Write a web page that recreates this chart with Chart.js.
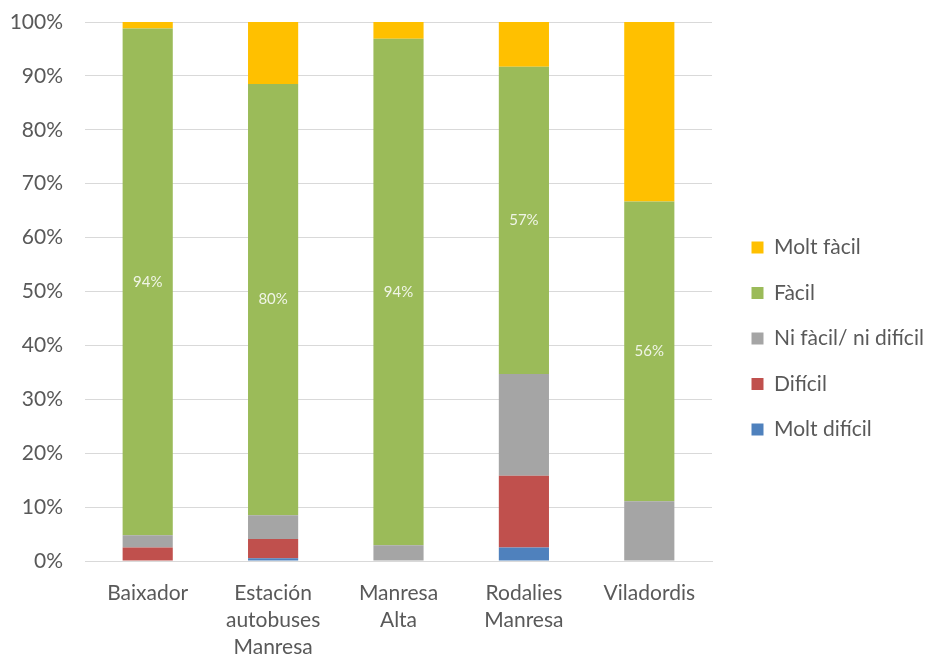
<!DOCTYPE html>
<html>
<head>
<meta charset="utf-8">
<script src="https://cdn.jsdelivr.net/npm/chart.js@4.4.1/dist/chart.umd.min.js"></script>
<style>
  html, body { margin: 0; padding: 0; background: #fff; }
  #wrap { width: 930px; height: 659px; }
</style>
</head>
<body>
<div id="wrap"><canvas id="chart" width="930" height="659"></canvas></div>
<script>
// stations (x axis), split into lines
const categories = [
    ['Baixador'],
    ['Estación', 'autobuses', 'Manresa'],
    ['Manresa', 'Alta'],
    ['Rodalies', 'Manresa'],
    ['Viladordis']
];

// share of answers per station, in %
const moltDificil = [0, 0.5, 0, 2.5, 0];
const dificil = [2.5, 3.6, 0, 13.3, 0];
const niFacil = [2.3, 4.4, 2.9, 18.9, 11.1];
const facil = [94, 80, 94, 57, 55.6];
const moltFacil = [1.2, 11.5, 3.1, 8.3, 33.3];

const yTicks = [0, 10, 20, 30, 40, 50, 60, 70, 80, 90, 100];

const textColor = '#595959';
const fontFamily = 'Lato, "Liberation Sans", sans-serif';

// value labels on the "Fàcil" segments
const facilLabels = {
    id: 'facilLabels',
    afterDatasetsDraw(chart) {
        const ctx = chart.ctx;
        const idx = chart.data.datasets.findIndex(d => d.label === 'Fàcil');
        const meta = chart.getDatasetMeta(idx);
        ctx.save();
        ctx.font = '15px ' + fontFamily;
        ctx.fillStyle = 'rgba(255,255,255,0.85)';
        ctx.textAlign = 'center';
        ctx.textBaseline = 'middle';
        meta.data.forEach((bar, i) => {
            const p = bar.getCenterPoint();
            ctx.fillText(Math.round(facil[i]) + '%', p.x, p.y);
        });
        ctx.restore();
    }
};

// legend column: fixed width, items set a bit in from the plot
const legendPlace = {
    id: 'legendPlace',
    beforeInit(chart) {
        const fit = chart.legend.fit;
        chart.legend.fit = function () {
            fit.bind(chart.legend)();
            this.width = 218;
        };
    },
    afterLayout(chart) {
        chart.legend.left = chart.chartArea.right + 15;
        chart.legend.top -= 2;
        chart.legend.bottom -= 2;
    }
};

new Chart(document.getElementById('chart'), {
    type: 'bar',
    data: {
        labels: categories,
        datasets: [
            { label: 'Molt difícil', data: moltDificil, backgroundColor: '#4F81BD' },
            { label: 'Difícil', data: dificil, backgroundColor: '#C0504D' },
            { label: 'Ni fàcil/ ni difícil', data: niFacil, backgroundColor: '#A5A5A5' },
            { label: 'Fàcil', data: facil, backgroundColor: '#9BBB59' },
            { label: 'Molt fàcil', data: moltFacil, backgroundColor: '#FFC000' }
        ]
    },
    options: {
        responsive: false,
        animation: false,
        layout: { padding: { top: 22, right: 0, bottom: 0, left: 0 } },
        datasets: {
            bar: { barPercentage: 0.8, categoryPercentage: 0.5 }
        },
        scales: {
            x: {
                stacked: true,
                afterFit(scale) { scale.height = 98; },
                grid: { display: false },
                border: { color: '#d9d9d9' },
                ticks: {
                    color: textColor,
                    font: { family: fontFamily, size: 21, lineHeight: 1.29 },
                    padding: 11,
                    maxRotation: 0,
                    autoSkip: false
                }
            },
            y: {
                stacked: true,
                min: 0,
                max: 100,
                afterFit(scale) {
                    scale.width = 85;
                    scale.paddingTop = 0;
                    scale.paddingBottom = 0;
                },
                afterBuildTicks(scale) { scale.ticks = yTicks.map(v => ({ value: v })); },
                grid: { color: '#d9d9d9', drawTicks: false },
                border: { display: false },
                ticks: {
                    color: textColor,
                    font: { family: fontFamily, size: 21 },
                    padding: 22,
                    callback: v => v + '%'
                }
            }
        },
        plugins: {
            legend: {
                position: 'right',
                reverse: true,
                labels: {
                    color: textColor,
                    font: { family: fontFamily, size: 21 },
                    boxWidth: 12,
                    boxHeight: 12,
                    padding: 24.5
                }
            },
            tooltip: { enabled: false }
        }
    },
    plugins: [facilLabels, legendPlace]
});
</script>
</body>
</html>
